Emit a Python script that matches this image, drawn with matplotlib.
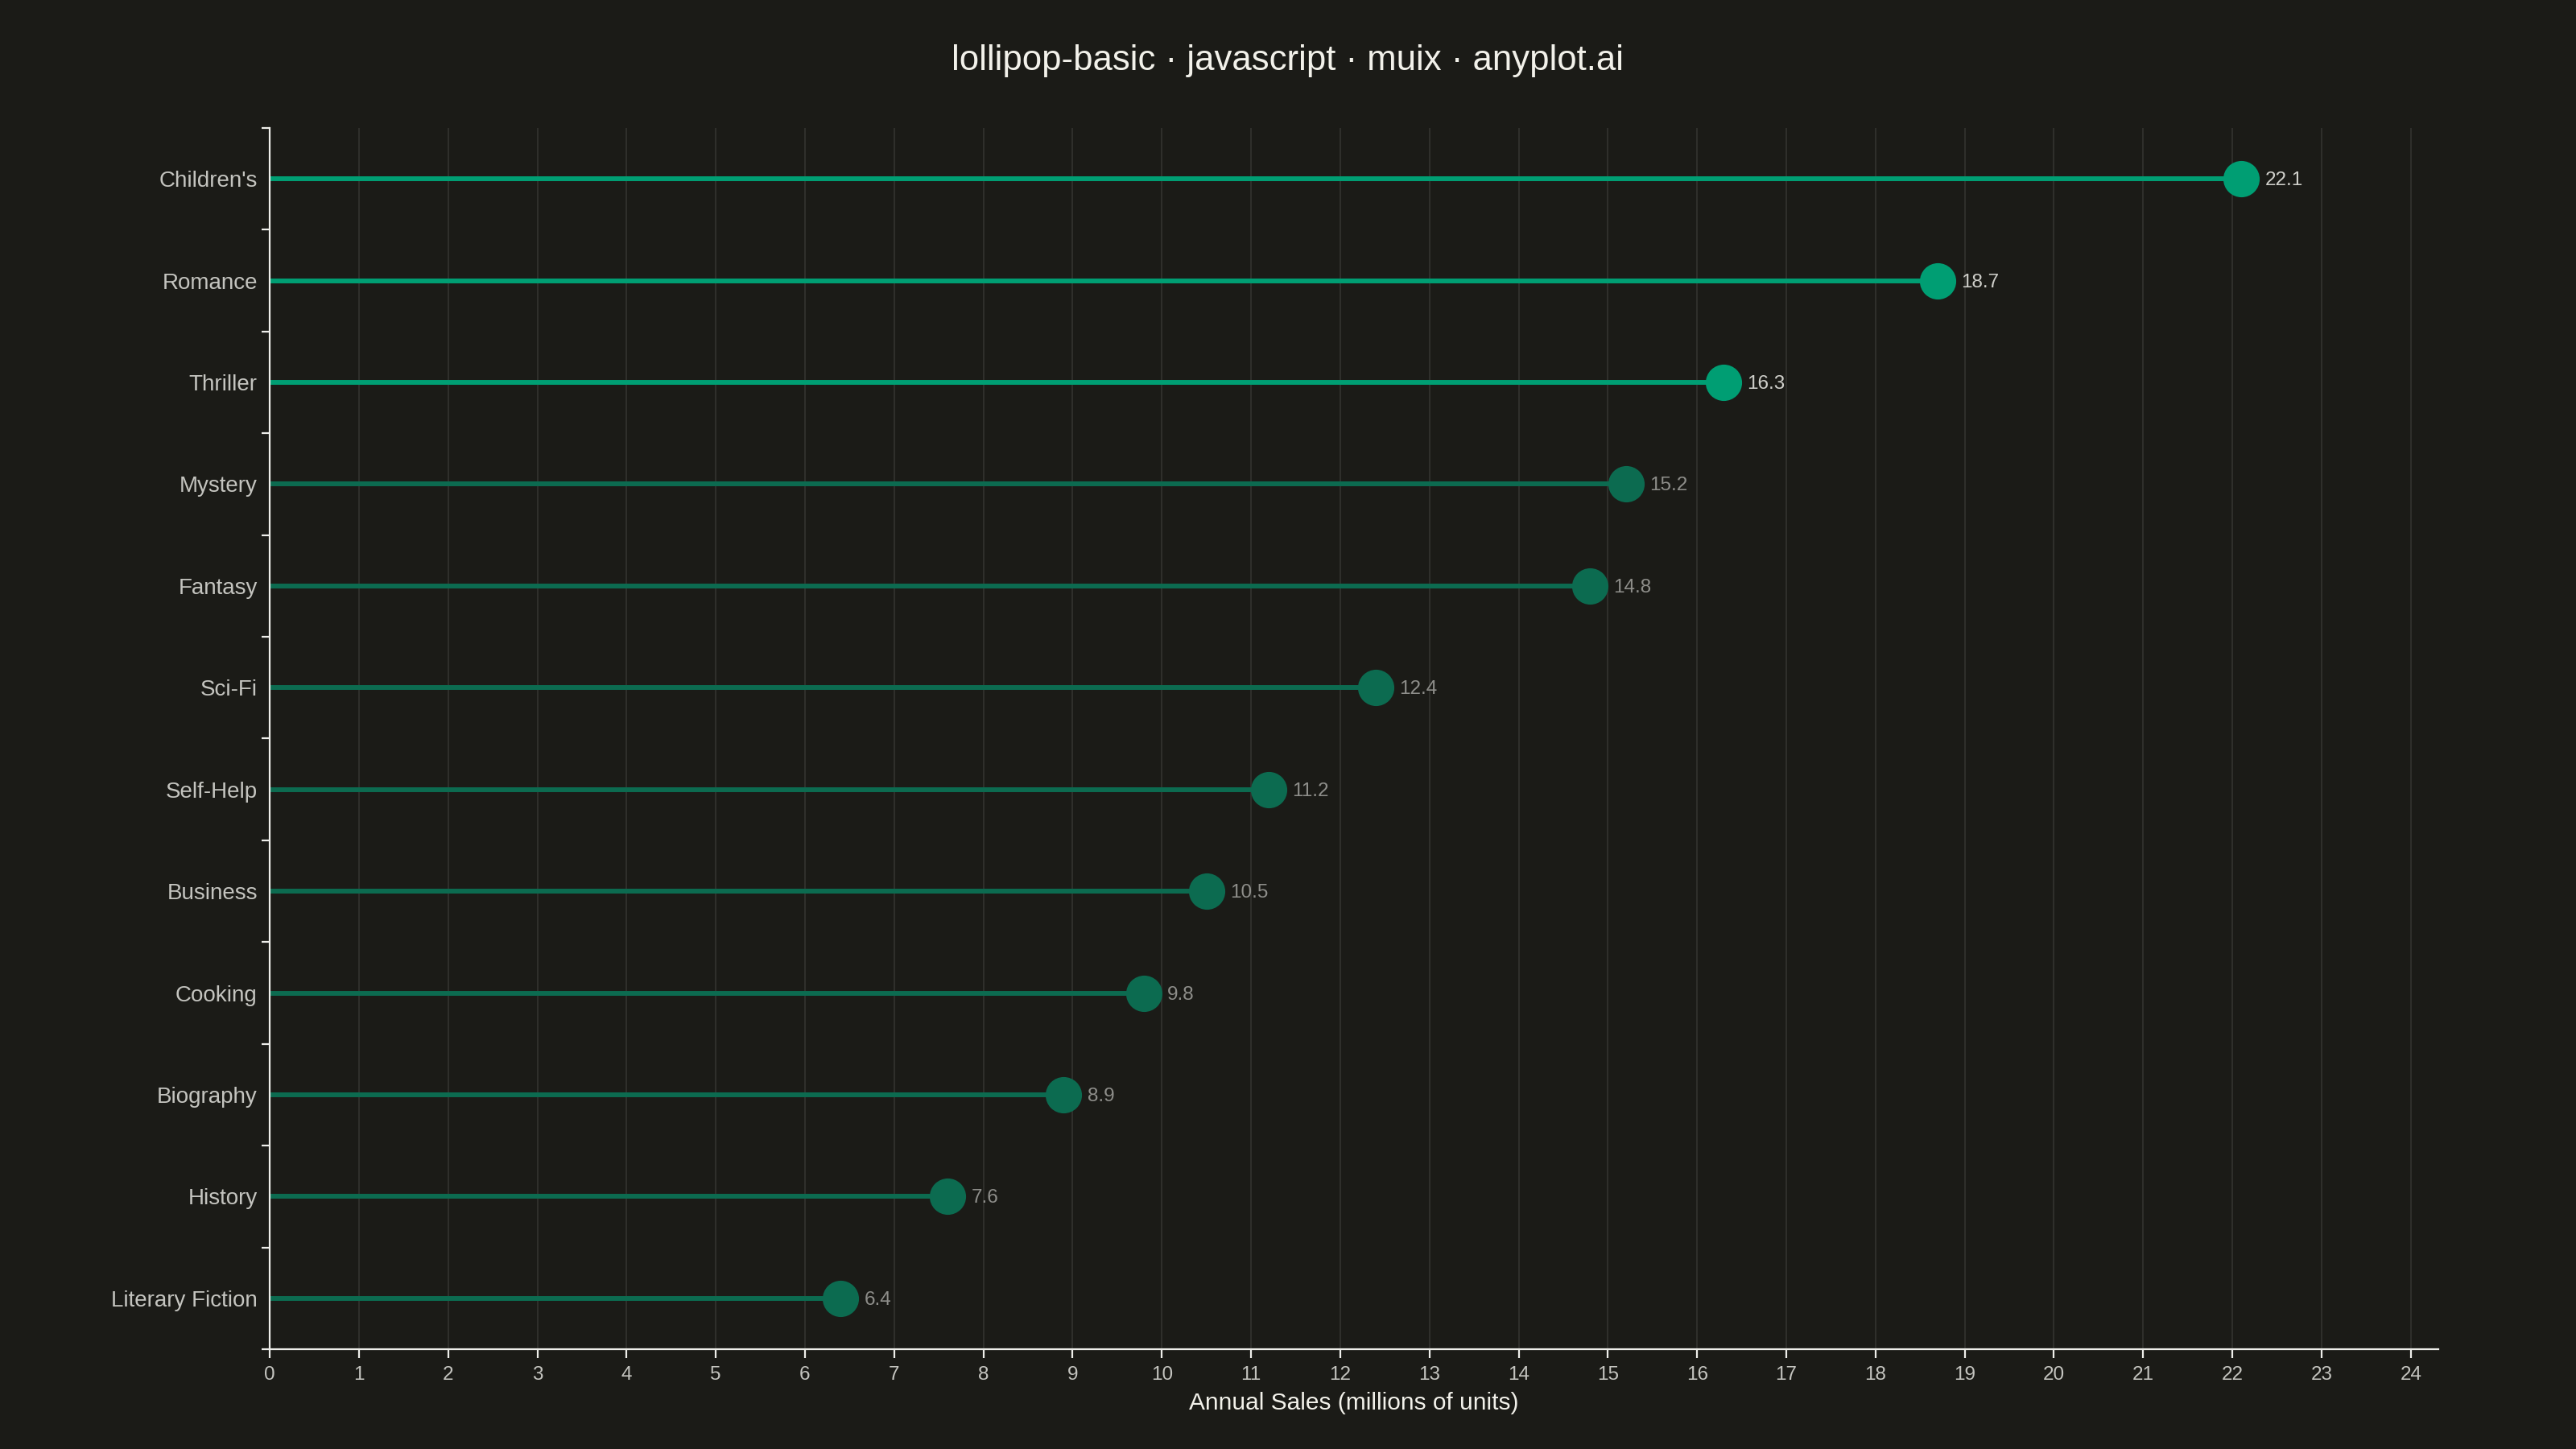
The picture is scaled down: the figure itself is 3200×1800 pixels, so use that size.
import matplotlib
matplotlib.use("Agg")
import matplotlib.pyplot as plt
from matplotlib.ticker import FixedLocator, MultipleLocator

# Data (top to bottom)
genres = ["Children's", "Romance", "Thriller", "Mystery", "Fantasy", "Sci-Fi",
          "Self-Help", "Business", "Cooking", "Biography", "History", "Literary Fiction"]
sales = [22.1, 18.7, 16.3, 15.2, 14.8, 12.4, 11.2, 10.5, 9.8, 8.9, 7.6, 6.4]
highlight_count = 3

BG = "#1b1b17"
BRIGHT = "#009e73"
DIM = "#0c6b50"
AXIS = "#eeeeea"
TEXT = "#c4c4bf"
TITLE = "#f2f1ea"

plt.rcParams['font.family'] = ['Liberation Sans', 'DejaVu Sans']

fig = plt.figure(figsize=(32, 18), dpi=100, facecolor=BG)
ax = fig.add_axes([0.1047, 0.0689, 0.9466 - 0.1047, 0.9117 - 0.0689])
ax.set_facecolor(BG)

n = len(genres)
ypos = list(range(n))
for i, (g, v) in enumerate(zip(genres, sales)):
    c = BRIGHT if i < highlight_count else DIM
    ax.plot([0, v], [i, i], color=c, lw=4.3, solid_capstyle='round', zorder=2)
    ax.plot([v], [i], 'o', color=c, markersize=32.5, markeredgewidth=0, zorder=3)
    ax.annotate(f"{v}", (v, i), xytext=(21, -1.5), textcoords='offset points',
                ha='left', va='center', fontsize=17.5,
                color="#cfcfca" if i < highlight_count else "#8e8e8a")

ax.set_xlim(0, max(sales) * 1.1)
ax.set_ylim(n - 0.5, -0.5)

ax.xaxis.set_major_locator(MultipleLocator(1))
ax.set_yticks(ypos)
ax.set_yticklabels(genres)
ax.yaxis.set_minor_locator(FixedLocator([k - 0.5 for k in range(n + 1)]))

ax.grid(axis='x', color="#2f2f2b", lw=1.5, zorder=0)
ax.set_axisbelow(True)

for s in ['top', 'right']:
    ax.spines[s].set_visible(False)
for s in ['left', 'bottom']:
    ax.spines[s].set_color(AXIS)
    ax.spines[s].set_linewidth(1.6)

ax.tick_params(axis='x', colors=AXIS, length=8, width=1.6, pad=7,
               labelsize=17.5, labelcolor=TEXT)
ax.tick_params(axis='y', which='major', length=0, pad=11,
               labelsize=20, labelcolor=TEXT)
ax.tick_params(axis='y', which='minor', colors=AXIS, length=7, width=1.6)

ax.set_xlabel("Annual Sales (millions of units)", fontsize=21.5, color=TITLE, labelpad=7)

fig.text(0.5, 1 - 75 / 1800, "lollipop-basic · javascript · muix · anyplot.ai",
         ha='center', va='center', fontsize=31.5, color=TITLE)

fig.savefig("out.png", dpi=100, facecolor=BG)
